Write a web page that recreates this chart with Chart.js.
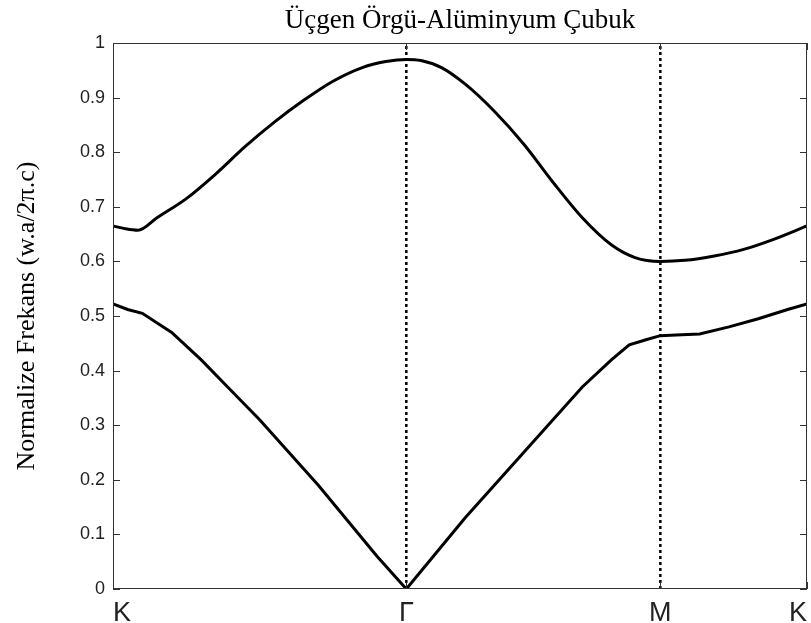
<!DOCTYPE html>
<html>
<head>
<meta charset="utf-8">
<script src="https://cdn.jsdelivr.net/npm/chart.js@4.4.1/dist/chart.umd.min.js"></script>
<style>
  html, body { margin: 0; padding: 0; background: #fff; }
  #wrap { width: 811px; height: 623px; }
</style>
</head>
<body>
<div id="wrap"><canvas id="chart_bands"></canvas></div>
<script>
// path K - Gamma - M - K, distances in units of |K-Gamma|
var pathPos = [0, 1, 1.866, 2.366];
var pathLabels = ['K', 'Γ', 'M', 'K'];
var yTicks = [0, 0.1, 0.2, 0.3, 0.4, 0.5, 0.6, 0.7, 0.8, 0.9, 1];

// upper band
var band2X = [0, 0.04, 0.085, 0.15, 0.25, 0.35, 0.45, 0.55, 0.65, 0.75, 0.85, 0.93, 1.0,
              1.05, 1.12, 1.2, 1.3, 1.4, 1.5, 1.6, 1.7, 1.78, 1.866,
              1.95, 2.05, 2.15, 2.25, 2.366];
var band2Y = [0.665, 0.66, 0.657, 0.68, 0.715, 0.76, 0.81, 0.855, 0.895, 0.93, 0.955, 0.966, 0.97,
              0.968, 0.955, 0.925, 0.875, 0.815, 0.745, 0.68, 0.63, 0.607, 0.60,
              0.602, 0.61, 0.622, 0.64, 0.665];

// lower band
var band1X = [0, 0.05, 0.1, 0.2, 0.3, 0.4, 0.5, 0.6, 0.7, 0.8, 0.9, 1.0,
              1.1, 1.2, 1.3, 1.4, 1.5, 1.6, 1.7, 1.76, 1.82, 1.866,
              1.92, 2.0, 2.1, 2.2, 2.3, 2.366];
var band1Y = [0.522, 0.512, 0.505, 0.47, 0.42, 0.365, 0.31, 0.25, 0.19, 0.125, 0.06, 0.0,
              0.065, 0.13, 0.19, 0.25, 0.31, 0.37, 0.42, 0.447, 0.457, 0.464,
              0.465, 0.467, 0.48, 0.495, 0.512, 0.522];

var chartTitle = 'Üçgen Örgü-Alüminyum Çubuk';
var yTitle = 'Normalize Frekans (w.a/2π.c)';

function toPoints(xs, ys) {
    var pts = [];
    for (var i = 0; i < xs.length; i++) pts.push({x: xs[i], y: ys[i]});
    return pts;
}

function vLine(x) {
    return {
        data: [{x: x, y: 0}, {x: x, y: 1}],
        borderColor: '#000',
        borderWidth: 2.5,
        borderDash: [3, 3],
        pointRadius: 0
    };
}

// box round the plot and inward tick marks, matlab style
var boxPlugin = {
    id: 'box',
    afterDraw: function(chart) {
        var ctx = chart.ctx, a = chart.chartArea;
        var ys = chart.scales.y, xs = chart.scales.x;
        ctx.save();
        ctx.strokeStyle = '#333';
        ctx.lineWidth = 1;
        ctx.strokeRect(a.left + 0.5, a.top + 0.5, a.right - a.left - 1, a.bottom - a.top - 1);
        ctx.beginPath();
        yTicks.forEach(function(v) {
            var p = Math.round(ys.getPixelForValue(v)) + 0.5;
            ctx.moveTo(a.left, p); ctx.lineTo(a.left + 7, p);
            ctx.moveTo(a.right, p); ctx.lineTo(a.right - 7, p);
        });
        pathPos.forEach(function(v) {
            var p = Math.round(xs.getPixelForValue(v)) + 0.5;
            ctx.moveTo(p, a.bottom); ctx.lineTo(p, a.bottom - 7);
            ctx.moveTo(p, a.top); ctx.lineTo(p, a.top + 7);
        });
        ctx.stroke();
        ctx.restore();
    }
};

var chart = new Chart(document.getElementById('chart_bands').getContext('2d'), {
    type: 'line',
    data: {
        datasets: [
            {data: toPoints(band2X, band2Y), borderColor: '#000', borderWidth: 3, pointRadius: 0, cubicInterpolationMode: 'monotone'},
            {data: toPoints(band1X, band1Y), borderColor: '#000', borderWidth: 3, pointRadius: 0, tension: 0},
            vLine(pathPos[1]),
            vLine(pathPos[2])
        ]
    },
    options: {
        responsive: true,
        maintainAspectRatio: false,
        animation: false,
        layout: {padding: {left: 0, right: 4, top: 0, bottom: 0}},
        plugins: {
            legend: {display: false},
            tooltip: {enabled: false}
        },
        scales: {
            x: {
                type: 'linear',
                min: pathPos[0],
                max: pathPos[3],
                afterBuildTicks: function(scale) {
                    scale.ticks = pathPos.map(function(v) { return {value: v}; });
                },
                afterFit: function(scale) { scale.height = 34; },
                grid: {display: false},
                border: {display: false},
                ticks: {
                    autoSkip: false,
                    maxRotation: 0,
                    align: 'inner',
                    padding: 0,
                    color: '#222',
                    font: {family: '"Liberation Sans", Arial, sans-serif', size: 27},
                    callback: function(value, index) { return pathLabels[index]; }
                }
            },
            // top axis only carries the title, so it is centred over the plot box
            xTop: {
                type: 'linear',
                position: 'top',
                min: pathPos[0],
                max: pathPos[3],
                afterFit: function(scale) { scale.height = 43; },
                grid: {display: false},
                border: {display: false},
                ticks: {display: false},
                title: {
                    display: true,
                    text: chartTitle,
                    color: '#000',
                    font: {family: '"Liberation Serif", "Times New Roman", serif', size: 27, lineHeight: 1.2},
                    padding: {top: 5, bottom: 5}
                }
            },
            y: {
                min: 0,
                max: 1,
                afterBuildTicks: function(scale) {
                    scale.ticks = yTicks.map(function(v) { return {value: v}; });
                },
                afterFit: function(scale) { scale.width = 113; },
                grid: {display: false, drawTicks: false},
                border: {display: false},
                ticks: {
                    padding: 8,
                    color: '#222',
                    font: {family: '"Liberation Sans", Arial, sans-serif', size: 18},
                    callback: function(value) { return String(Math.round(value * 10) / 10); }
                },
                title: {
                    display: true,
                    text: yTitle,
                    color: '#000',
                    font: {family: '"Liberation Serif", "Times New Roman", serif', size: 26},
                    padding: {top: 12, bottom: 0}
                }
            }
        }
    },
    plugins: [boxPlugin]
});
</script>
</body>
</html>
